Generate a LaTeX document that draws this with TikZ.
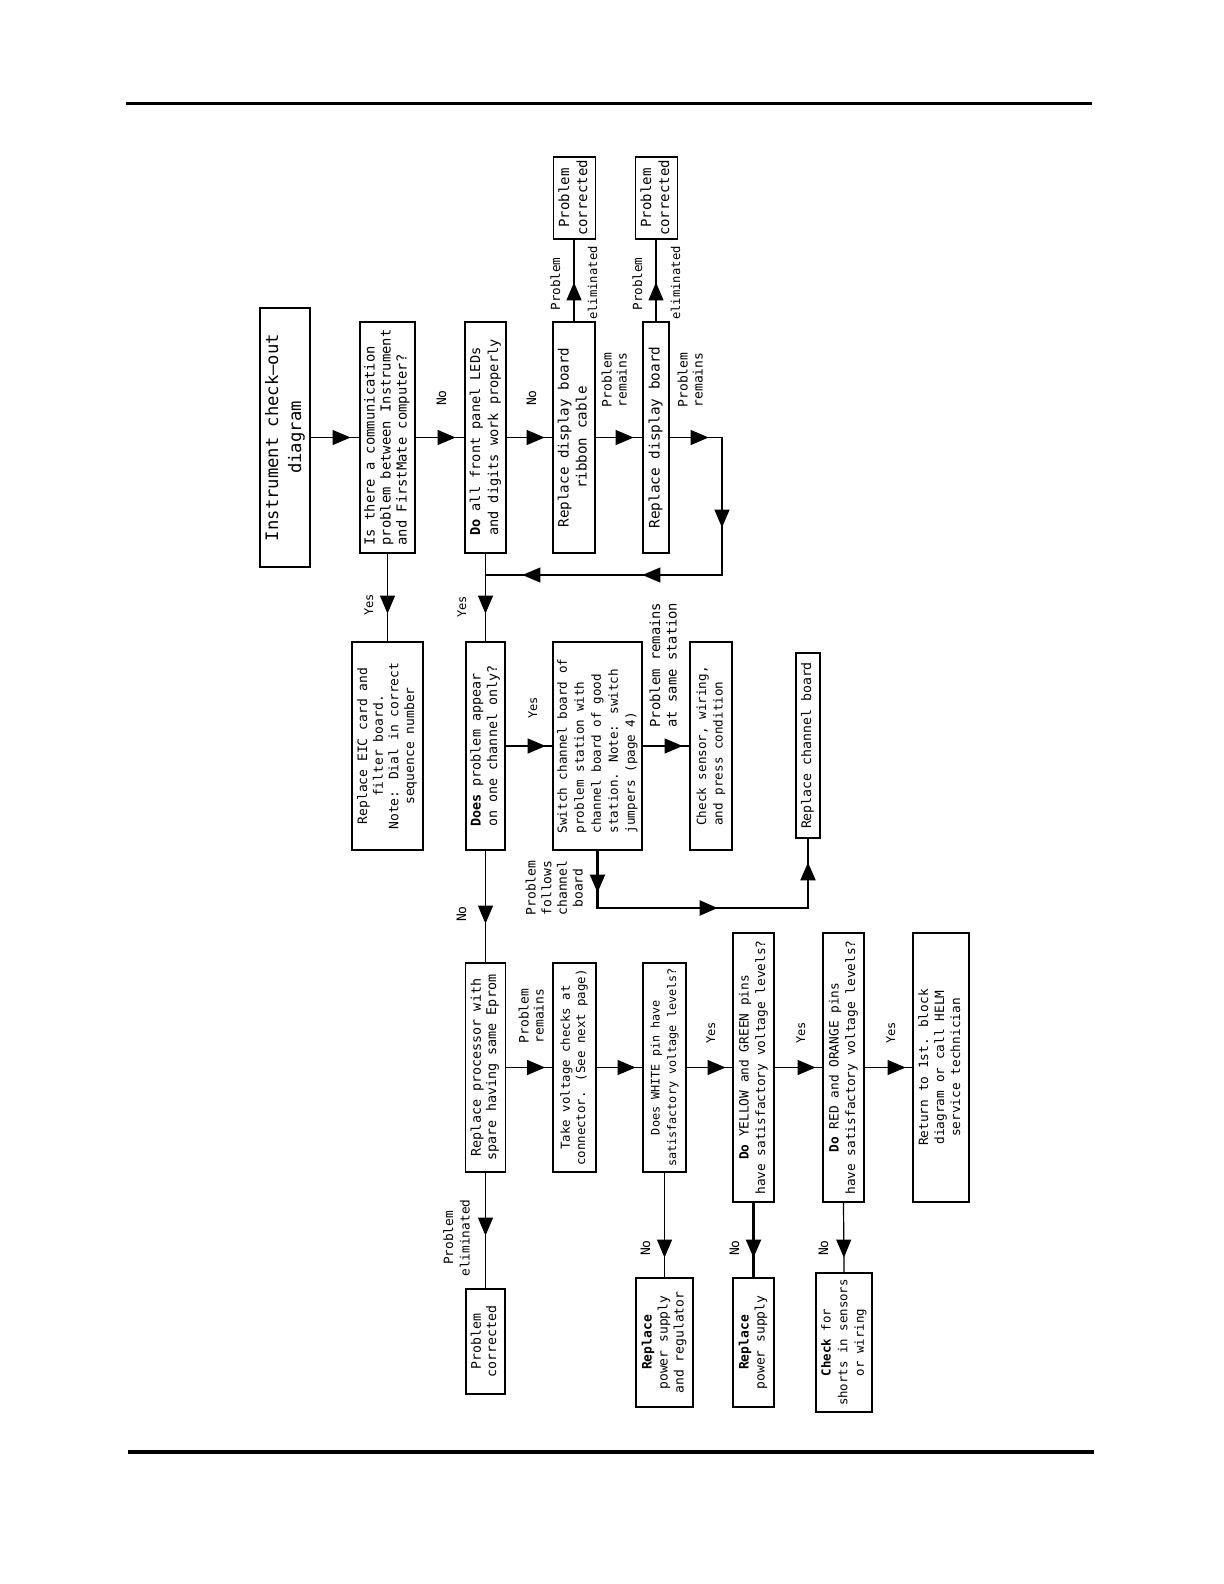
\documentclass[tikz,border=0pt]{standalone}
\usepackage{fontspec}
\usepackage{graphicx}
\usetikzlibrary{arrows.meta,decorations.markings}
\newfontfamily\cadfont{DejaVu Sans Mono}
\newcommand\rt[4]{\rotatebox{90}{\fontsize{#1}{#2}\selectfont\begin{tabular}{@{}#3@{}}#4\end{tabular}}}
\tikzset{
  bx/.style 2 args={draw, line width=0.6pt, inner sep=0pt, minimum width=#1*0.5pt, minimum height=#2*0.5pt, font=\cadfont},
  lbl/.style={inner sep=0pt, font=\cadfont},
  conn/.style={line width=0.6pt},
  heavy/.style={line width=1.1pt},
  ar/.style={postaction={decorate,decoration={markings,mark=at position #1 with {\arrow{Triangle[length=9pt,width=7.5pt]}}}}},
}
\begin{document}
\begin{tikzpicture}[x=0.5pt,y=-0.5pt]
\fill[white] (0,0) rectangle (1224,1584);
\useasboundingbox (0,0) rectangle (1224,1584);
% page rules
\draw[line width=1.5pt] (126,104) -- (1092,104);
\draw[line width=1.6pt] (128,1452) -- (1094,1452);

% row 1
\node[bx={50}{259}] (A) at (285,437.5) {\rt{8.6}{11.5}{c}{Instrument check—out\\diagram}};
\node[bx={55}{231}] (B) at (387.5,437.5) {\rt{6.9}{8}{l}{Is there a communication\\problem between Instrument\\and FirstMate computer?}};
\node[bx={41}{231}] (C) at (485.5,437.5) {\rt{6.8}{9}{l}{\textbf{Do} all front panel LEDs\\and digits work properly}};
\node[bx={42}{231}] (D) at (574,437.5) {\rt{7.1}{9}{c}{Replace display board\\ribbon cable}};
\node[bx={26}{231}] (E) at (656,437.5) {\rt{7.2}{9}{c}{Replace display board}};
\node[bx={42}{82}] (F1) at (574.5,198) {\rt{7}{9}{c}{Problem\\corrected}};
\node[bx={42}{82}] (F2) at (656.5,198) {\rt{7}{9}{c}{Problem\\corrected}};

% row 2
\node[bx={71}{208}] (H) at (387.5,746) {\rt{6.5}{7.8}{c}{Replace EIC card and\\filter board.\\Note: Dial in correct\\sequence number}};
\node[bx={39}{208}] (G) at (485.5,746) {\rt{6.7}{8.3}{l}{\textbf{Does} problem appear\\on one channel only?}};
\node[bx={89}{208}] (I) at (597.5,746) {\rt{6.3}{8.5}{l}{Switch channel board of\\problem station with\\channel board of good\\station. Note: switch\\jumpers (page 4)}};
\node[bx={42}{208}] (J) at (711,746) {\rt{6.3}{8.3}{l}{Check sensor, wiring,\\and press condition}};
\node[bx={24}{185}] (K) at (808,745.5) {\rt{6.6}{8}{c}{Replace channel board}};

% row 3
\node[bx={40}{209}] (L) at (485.5,1067.5) {\rt{6.7}{7.6}{c}{Replace processor with\\spare having same Eprom}};
\node[bx={43}{209}] (M) at (574.5,1067.5) {\rt{6.2}{7.6}{c}{Take voltage checks at\\connector. (See next page)}};
\node[bx={43}{209}] (N) at (664.5,1067.5) {\rt{5.9}{8.3}{c}{Does WHITE pin have\\satisfactory voltage levels?}};
\node[bx={41}{269}] (O) at (753.5,1067.5) {\rt{6.4}{8.3}{c}{\textbf{Do} YELLOW and GREEN pins\\have satisfactory voltage levels?}};
\node[bx={41}{269}] (P) at (843.5,1067.5) {\rt{6.4}{8.3}{c}{\textbf{Do} RED and ORANGE pins\\have satisfactory voltage levels?}};
\node[bx={56}{269}] (Q) at (941,1067.5) {\rt{6.4}{8}{c}{Return to 1st. block\\diagram or call HELM\\service technician}};

% row 4
\node[bx={39}{105}] (R) at (485.5,1341.5) {\rt{6.6}{7.6}{c}{Problem\\corrected}};
\node[bx={57}{129}] (S) at (664.5,1342.5) {\rt{6.5}{8}{c}{\textbf{Replace}\\power supply\\and regulator}};
\node[bx={41}{129}] (T) at (753.5,1342.5) {\rt{6.5}{8}{c}{\textbf{Replace}\\power supply}};
\node[bx={56}{139}] (U) at (844,1342.5) {\rt{6.2}{8.3}{c}{\textbf{Check} for\\shorts in sensors\\or wiring}};

% connectors row 1
\draw[conn, ar=20pt] (A.east) -- (B.west);
\draw[conn, ar=20pt] (B.east) -- (C.west);
\draw[conn, ar=19pt] (C.east) -- (D.west);
\draw[conn, ar=19pt] (D.east) -- (E.west);
\draw[conn, ar=19.5pt] (D.north) -- (D.north |- F1.south);
\draw[conn, ar=19.5pt] (E.north) -- (E.north |- F2.south);
\coordinate (J1) at (722,437.5);
\coordinate (J2) at (722,575);
\coordinate (J3) at (485.5,575);
\draw[conn, ar=19.5pt, ar=71.25pt, ar=134.75pt, ar=194.75pt] (E.east) -- (J1) -- (J2) -- (J3);
\draw[conn, ar=30pt] (C.south) -- (G.north);
\draw[conn, ar=30pt] (B.south) -- (H.north);

% connectors row 2
\draw[conn, ar=20pt] (G.east) -- (I.west);
\draw[conn, ar=20pt] (I.east) -- (J.west);
\coordinate (K1) at (597.5,908);
\coordinate (K2) at (808,908);
\draw[heavy, ar=21pt, ar=88.75pt, ar=156.75pt] (I.south) -- (K1) -- (K2) -- (K.south);
\draw[conn, ar=36.5pt] (G.south) -- (L.north);

% connectors row 3
\draw[conn, ar=19.5pt] (L.east) -- (M.west);
\draw[conn, ar=19.5pt] (M.east) -- (N.west);
\draw[conn, ar=19.5pt] (N.east) -- (O.west);
\draw[conn, ar=20.5pt] (O.east) -- (P.west);
\draw[conn, ar=20.5pt] (P.east) -- (Q.west);

% connectors row 4
\draw[conn, ar=31.5pt] (L.south) -- (R.north);
\draw[conn, ar=42.5pt] (N.south) -- (S.north);
\draw[heavy, ar=27.5pt] (O.south) -- (T.north);
\draw[conn, ar=27.5pt] (P.south) -- (U.north);

% labels
\node[lbl] (l1) at (443,398) {\rt{6.5}{8}{c}{No}};
\node[lbl] (l2) at (533,398) {\rt{6.5}{8}{c}{No}};
\node[lbl] (l3) at (616,380) {\rt{6.5}{7.5}{l}{Problem\\remains}};
\node[lbl] (l4) at (692,380) {\rt{6.5}{7.5}{l}{Problem\\remains}};
\node[lbl] (l5) at (557,284) {\rt{6.3}{8}{c}{Problem}};
\node[lbl] (l6) at (594,283) {\rt{6.1}{8}{c}{eliminated}};
\node[lbl] (l7) at (639,284) {\rt{6.3}{8}{c}{Problem}};
\node[lbl] (l8) at (677,283) {\rt{6.1}{8}{c}{eliminated}};
\node[lbl] (l9) at (370,605) {\rt{6}{8}{c}{Yes}};
\node[lbl] (l10) at (463,607) {\rt{6}{8}{c}{Yes}};
\node[lbl] (l11) at (534,708) {\rt{6}{8}{c}{Yes}};
\node[lbl] (l12) at (665,665) {\rt{6.9}{8.3}{c}{Problem remains\\at same station}};
\node[lbl] (l13) at (556,888) {\rt{6.5}{7.8}{c}{Problem\\follows\\channel\\board}};
\node[lbl] (l14) at (463,914) {\rt{6.5}{8}{c}{No}};
\node[lbl] (l15) at (533,1016) {\rt{6.5}{7.5}{l}{Problem\\remains}};
\node[lbl] (l16) at (712,1033) {\rt{6}{8}{c}{Yes}};
\node[lbl] (l17) at (802,1033) {\rt{6}{8}{c}{Yes}};
\node[lbl] (l18) at (892,1033) {\rt{6}{8}{c}{Yes}};
\node[lbl] (l19) at (458,1238) {\rt{6.4}{8.3}{c}{Problem\\eliminated}};
\node[lbl] (l20) at (647,1248) {\rt{6.5}{8}{c}{No}};
\node[lbl] (l21) at (736,1248) {\rt{6.5}{8}{c}{No}};
\node[lbl] (l22) at (825,1248) {\rt{6.5}{8}{c}{No}};
\end{tikzpicture}
\end{document}
